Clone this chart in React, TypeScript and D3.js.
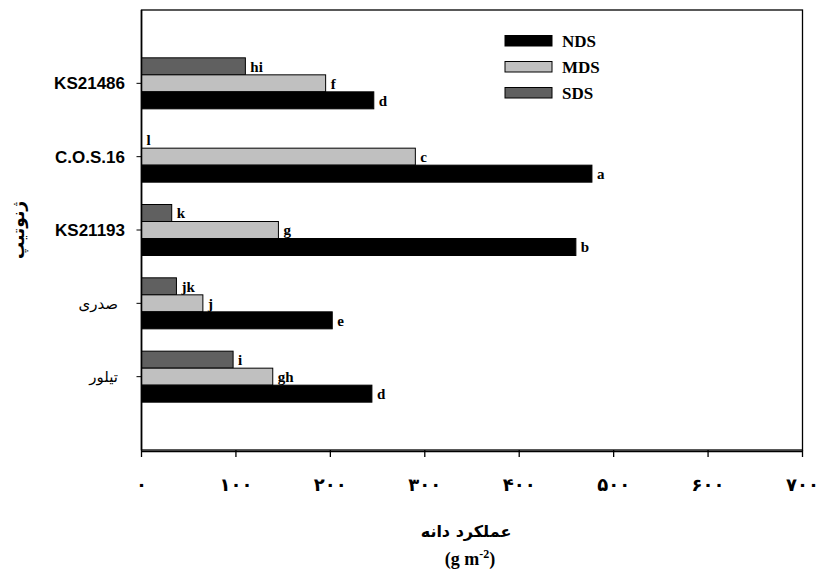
import React from "react";
import * as d3 from "d3";

const categories = ["KS21486", "C.O.S.16", "KS21193", "صدری", "تیلور"];
const seriesNames = ["NDS", "MDS", "SDS"];
const ndsValues = [246, 477, 460, 202, 244];
const mdsValues = [195, 290, 145, 65, 139];
const sdsValues = [110, 0, 32, 37, 97];
const ndsLetters = ["d", "a", "b", "e", "d"];
const mdsLetters = ["f", "c", "g", "j", "gh"];
const sdsLetters = ["hi", "l", "k", "jk", "i"];
const xTicks = [0, 100, 200, 300, 400, 500, 600, 700];
const xTickLabels = ["۰", "۱۰۰", "۲۰۰", "۳۰۰", "۴۰۰", "۵۰۰", "۶۰۰", "۷۰۰"];
const colors: Record<string, string> = { NDS: "#000000", MDS: "#c0c0c0", SDS: "#606060" };

const W = 818;
const H = 582;
const L = 141.5, R = 802.5, T = 10, B = 450;

export default function App() {
  const x = d3.scaleLinear().domain([0, 700]).range([L, R]);
  const y = d3.scaleLinear().domain([0, categories.length + 1]).range([B, T]);
  const sub = d3.scaleBand().domain(["SDS", "MDS", "NDS"]).range([-25.5, 25.5]);
  const values: Record<string, number[]> = { NDS: ndsValues, MDS: mdsValues, SDS: sdsValues };
  const letters: Record<string, string[]> = { NDS: ndsLetters, MDS: mdsLetters, SDS: sdsLetters };
  const catY = (i: number) => y(categories.length - i);
  const serif = "'Liberation Serif', 'Times New Roman', serif";
  const sans = "'Liberation Sans', Arial, sans-serif";
  const arab = "'DejaVu Sans', sans-serif";
  const isLatin = (s: string) => /^[A-Za-z0-9.]+$/.test(s);

  return (
    <svg width={W} height={H} style={{ position: "absolute", left: 0, top: 0 }}>
      <rect x={0} y={0} width={W} height={H} fill="#fff" />
      <rect x={L} y={T} width={R - L} height={B - T} fill="none" stroke="#000" strokeWidth={1.3} />
      {categories.map((c, i) => (
        <g key={c}>
          {["SDS", "MDS", "NDS"].map((s) => {
            const v = values[s][i];
            const yy = catY(i) + (sub(s) as number);
            return (
              <g key={s}>
                <rect x={x(0)} y={yy} width={x(v) - x(0)} height={sub.bandwidth()} fill={colors[s]} stroke="#000" strokeWidth={1} />
                <text x={x(v) + 5} y={yy + sub.bandwidth() / 2} dy="0.35em" fontFamily={serif} fontWeight="bold" fontSize={15}>
                  {letters[s][i]}
                </text>
              </g>
            );
          })}
          <line x1={L - 5} x2={L} y1={catY(i)} y2={catY(i)} stroke="#000" />
          <text
            x={isLatin(c) ? 125 : 118}
            y={catY(i)}
            dy="0.35em"
            textAnchor="end"
            fontFamily={isLatin(c) ? sans : arab}
            fontWeight={isLatin(c) ? "bold" : "normal"}
            fontSize={isLatin(c) ? 17 : 15}
          >
            {c}
          </text>
        </g>
      ))}
      <line x1={L} x2={L} y1={T} y2={B} stroke="#000" strokeWidth={1.6} />
      <line x1={L} x2={R} y1={B + 1.5} y2={B + 1.5} stroke="#000" strokeWidth={1.3} />
      {xTicks.map((t, i) => (
        <g key={t}>
          <line x1={x(t)} x2={x(t)} y1={B} y2={B + 7} stroke="#000" strokeWidth={1.3} />
          <text x={x(t)} y={485} dy="0.35em" textAnchor="middle" fontFamily={arab} fontWeight="bold" fontSize={18}>
            {xTickLabels[i]}
          </text>
        </g>
      ))}
      <text x={466} y={531} dy="0.35em" textAnchor="middle" fontFamily={arab} fontWeight="bold" fontSize={16}>
        عملکرد دانه
      </text>
      <text x={470} y={559} dy="0.35em" textAnchor="middle" fontFamily={serif} fontWeight="bold" fontSize={18}>
        (g m<tspan dy="-7" fontSize={12}>-2</tspan><tspan dy="7">)</tspan>
      </text>
      <text transform="translate(18,230) rotate(-90)" textAnchor="middle" dy="0.35em" fontFamily={arab} fontWeight="bold" fontSize={17}>
        ژنوتیپ
      </text>
      {seriesNames.map((s, i) => (
        <g key={s}>
          <rect x={505} y={35.5 + i * 26} width={47} height={10.5} fill={colors[s]} stroke="#000" strokeWidth={1} />
          <text x={562} y={41 + i * 26} dy="0.35em" fontFamily={serif} fontWeight="bold" fontSize={17}>
            {s}
          </text>
        </g>
      ))}
    </svg>
  );
}
